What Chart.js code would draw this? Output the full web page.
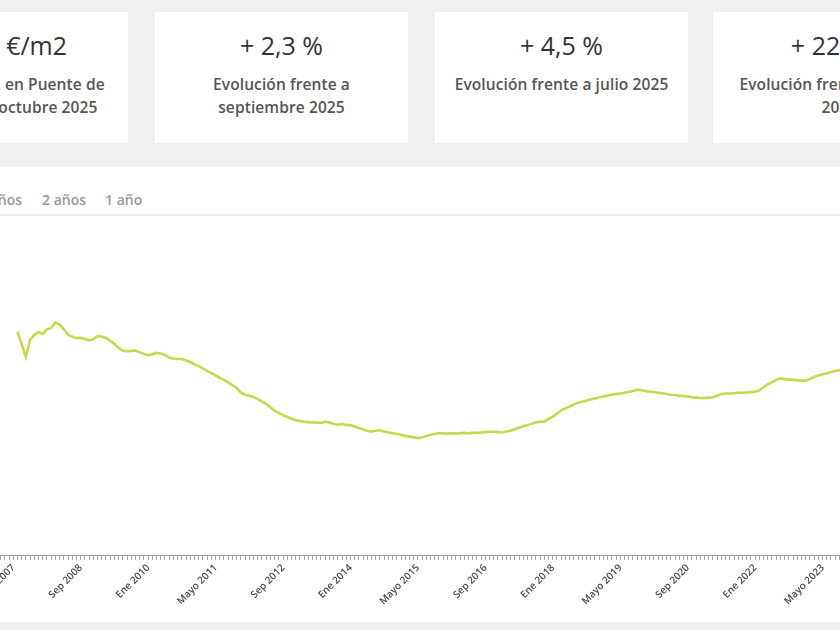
<!DOCTYPE html>
<html>
<head>
<meta charset="utf-8">
<title>Evolución precio Puente de Vallecas</title>
<script src="https://cdn.jsdelivr.net/npm/chart.js@4/dist/chart.umd.min.js"></script>
<style>
    body { margin: 0; width: 840px; height: 630px; overflow: hidden; position: relative; background: #f0f0f0; font-family: "Open Sans", sans-serif; }
    .card { position: absolute; top: 12px; width: 253px; height: 131px; background: #fff; text-align: center; }
    .num { margin-top: 18px; font-size: 25px; line-height: 30px; color: #333; }
    .txt { margin-top: 13px; font-size: 15.5px; line-height: 23px; font-weight: 600; color: #555; letter-spacing: 0.1px; }
    .panel { position: absolute; top: 167px; left: -125px; width: 1091px; height: 455px; background: #fff; }
    .btn { position: absolute; top: 190px; font-size: 14px; font-weight: 600; color: #999; line-height: 20px; }
    .rule { position: absolute; top: 214px; left: -125px; width: 1091px; height: 2px; background: #ececec; }
    #chartBox { position: absolute; left: -110px; top: 211px; }
</style>
</head>
<body>
    <div class="card" style="left:-125px">
        <div class="num">3.310 €/m2</div>
        <div class="txt">Precio del m2 en Puente de<br>Vallecas, en octubre 2025</div>
    </div>
    <div class="card" style="left:155px">
        <div class="num">+ 2,3 %</div>
        <div class="txt">Evolución frente a<br>septiembre 2025</div>
    </div>
    <div class="card" style="left:435px">
        <div class="num">+ 4,5 %</div>
        <div class="txt">Evolución frente a julio 2025</div>
    </div>
    <div class="card" style="left:713px">
        <div class="num">+ 22,1 %</div>
        <div class="txt">Evolución frente a octubre<br>2024</div>
    </div>

    <div class="panel"></div>
    <span class="btn" style="left:-100px">Todo</span>
    <span class="btn" style="left:-22px">5 años</span>
    <span class="btn" style="left:42px">2 años</span>
    <span class="btn" style="left:105px">1 año</span>
    <div class="rule"></div>

    <div id="chartBox"><canvas id="price-chart" width="1079" height="394"></canvas></div>
</body>
<script>
    // axis categories: one per month, Ene 2006 .. Oct 2025
    const monthNames = ['Ene', 'Feb', 'Mar', 'Abr', 'Mayo', 'Jun', 'Jul', 'Ago', 'Sep', 'Oct', 'Nov', 'Dic'];
    const years = [2006, 2007, 2008, 2009, 2010, 2011, 2012, 2013, 2014, 2015,
                   2016, 2017, 2018, 2019, 2020, 2021, 2022, 2023, 2024, 2025];
    const lastMonth = 9; // octubre 2025
    const labelEvery = 16;

    // precio €/m2, monthly
    const price2006 = [null, null, null, null, null, null, null, null, null, null, null, null];
    const price2007 = [null, null, null, null, 3010, 2840, 2670, 2900, 2965, 3005, 2980, 3040];
    const price2008 = [3060, 3130, 3105, 3045, 2970, 2940, 2925, 2925, 2910, 2890, 2905, 2950];
    const price2009 = [2945, 2925, 2885, 2845, 2790, 2755, 2745, 2750, 2755, 2730, 2710, 2690];
    const price2010 = [2705, 2725, 2715, 2695, 2660, 2645, 2640, 2640, 2620, 2600, 2570, 2545];
    const price2011 = [2515, 2480, 2450, 2420, 2385, 2360, 2325, 2290, 2250, 2190, 2160, 2145];
    const price2012 = [2130, 2100, 2070, 2035, 1990, 1945, 1915, 1885, 1860, 1835, 1815, 1805];
    const price2013 = [1795, 1790, 1785, 1785, 1780, 1795, 1785, 1765, 1755, 1765, 1750, 1750];
    const price2014 = [1730, 1710, 1695, 1670, 1665, 1675, 1680, 1665, 1650, 1640, 1630, 1620];
    const price2015 = [1605, 1595, 1585, 1575, 1585, 1605, 1620, 1630, 1640, 1640, 1635, 1640];
    const price2016 = [1635, 1640, 1645, 1640, 1645, 1645, 1650, 1655, 1660, 1660, 1655, 1650];
    const price2017 = [1665, 1675, 1695, 1715, 1735, 1750, 1770, 1785, 1795, 1800, 1835, 1865];
    const price2018 = [1905, 1950, 1975, 2000, 2030, 2050, 2065, 2080, 2095, 2110, 2125, 2135];
    const price2019 = [2150, 2160, 2170, 2175, 2185, 2200, 2210, 2225, 2220, 2210, 2200, 2195];
    const price2020 = [2185, 2180, 2170, 2160, 2155, 2145, 2140, 2135, 2125, 2120, 2115, 2115];
    const price2021 = [2120, 2125, 2145, 2170, 2175, 2175, 2180, 2185, 2185, 2190, 2195, 2200];
    const price2022 = [2220, 2260, 2300, 2330, 2360, 2380, 2370, 2365, 2360, 2355, 2350, 2350];
    const price2023 = [2370, 2400, 2420, 2435, 2445, 2465, 2480, 2490, 2495, 2505, 2520, 2530];
    const price2024 = [2545, 2560, 2580, 2600, 2620, 2640, 2660, 2680, 2700, 2710, 2750, 2790];
    const price2025 = [2830, 2880, 2940, 3000, 3060, 3120, 3168, 3200, 3235, 3310];

    const prices = [].concat(price2006, price2007, price2008, price2009, price2010, price2011,
        price2012, price2013, price2014, price2015, price2016, price2017, price2018, price2019,
        price2020, price2021, price2022, price2023, price2024, price2025);

    const labels = [];
    years.forEach(y => {
        monthNames.forEach((m, i) => {
            if (y < 2025 || i <= lastMonth) labels.push(m + ' ' + y);
        });
    });

    const ctx = document.getElementById('price-chart').getContext('2d');
    new Chart(ctx, {
        type: 'line',
        data: {
            labels: labels,
            datasets: [{
                label: 'Precio €/m2',
                data: prices,
                borderColor: '#c8d74c',
                borderWidth: 2.6,
                pointRadius: 0,
                tension: 0,
                fill: false
            }]
        },
        options: {
            responsive: false,
            animation: false,
            layout: { padding: { left: 60, right: 20, top: 10, bottom: 0 } },
            plugins: { legend: { display: false }, tooltip: { enabled: false } },
            scales: {
                x: {
                    grid: { display: true, drawOnChartArea: false, drawTicks: true, tickLength: 5, color: '#a8a8a8' },
                    border: { display: true, color: '#a0a0a0' },
                    ticks: {
                        autoSkip: false,
                        minRotation: 45,
                        maxRotation: 45,
                        padding: 2,
                        labelOffset: -4,
                        color: '#4a4a4a',
                        font: { family: 'Open Sans', size: 10, weight: '600' },
                        callback: (v, i) => (i % labelEvery === 0 ? labels[i] : '')
                    },
                    afterFit: scale => { scale.height = 50; }
                },
                y: { display: false, min: 0, max: 4500 }
            }
        }
    });
</script>
</html>
